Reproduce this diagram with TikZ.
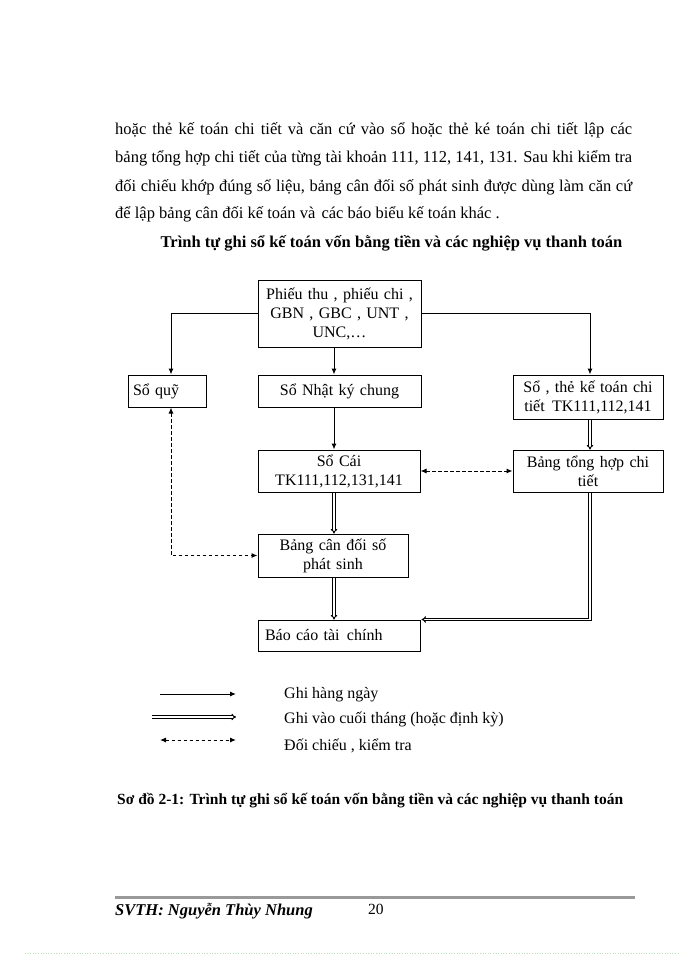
\documentclass[tikz,border=0pt]{standalone}
\usepackage{fontspec}
\setmainfont{Liberation Serif}
\usetikzlibrary{arrows.meta,calc}
\begin{document}
\begin{tikzpicture}[x=1pt,y=-1pt,
  box/.style={draw=black, line width=1pt, inner sep=0pt, align=center,
    font=\fontsize{16}{19}\selectfont},
  bodytxt/.style={anchor=base west, inner sep=0pt, font=\fontsize{16.5}{19}\selectfont},
  sol/.style={line width=1pt, -{Latex[length=6pt,width=5pt]}},
  dbl/.style={double, double distance=1.1pt, line width=1pt, -{Implies[scale=1.3]}},
  dsh/.style={line width=1pt, dash pattern=on 3.5pt off 2.5pt,
    {Latex[length=6pt,width=5pt]}-{Latex[length=6pt,width=5pt]}},
  legtxt/.style={anchor=base west, inner sep=0pt, font=\fontsize{16}{19}\selectfont}]
\useasboundingbox[fill=white] (0,0) rectangle (700,960);

% paragraph
\node[bodytxt] (p1) at (115,135) {\makebox[517pt][s]{hoặc thẻ kế toán chi tiết  và căn cứ vào sổ hoặc thẻ ké toán chi tiết lập các}};
\node[bodytxt] (p2) at (115,163) {\makebox[517pt][s]{bảng tổng hợp chi tiết của từng tài khoản 111, 112, 141, 131. Sau khi kiểm tra}};
\node[bodytxt] (p3) at (115,191) {\makebox[517pt][s]{đối chiếu khớp đúng số liệu,  bảng cân đối số phát sinh được dùng làm  căn cứ}};
\node[bodytxt] (p4) at (115,218) {để lập bảng cân đối kế toán và\hspace{2pt} các báo biểu kế toán khác .};

% title
\node[anchor=base, inner sep=0pt, font=\fontsize{16.5}{19}\selectfont\bfseries] (title) at (391.5,247)
  {Trình tự ghi sổ kế toán vốn bằng tiền và các nghiệp vụ thanh toán};

% boxes
\node[box, minimum width=163pt, minimum height=67pt, text width=159pt] (top) at (339.5,313.5)
  {Phiếu thu , phiếu chi ,\\ GBN , GBC , UNT ,\\ UNC,…};
\node[box, minimum width=78pt, minimum height=32pt, text width=68pt, align=left] (quy) at (167,391) {Sổ quỹ};
\node[box, minimum width=163pt, minimum height=32pt, text width=157pt] (nkc) at (339.5,391) {Sổ Nhật ký chung};
\node[box, minimum width=150pt, minimum height=44pt, text width=148pt] (sct) at (588,397)
  {Sổ , thẻ kế toán chi\\ tiết\hspace{2pt} TK111,112,141};
\node[box, minimum width=162pt, minimum height=42pt, text width=156pt] (socai) at (339,471)
  {Sổ Cái\\ TK111,112,131,141};
\node[box, minimum width=150pt, minimum height=42pt, text width=146pt] (bth) at (588,471)
  {Bảng tổng hợp chi\\ tiết};
\node[box, minimum width=150pt, minimum height=43pt, text width=144pt] (bcd) at (333,555.5)
  {Bảng cân đối số\\ phát sinh};
\node[box, minimum width=162pt, minimum height=31pt, text width=148pt, align=left] (bctc) at (339,635.5)
  {Báo cáo tài\hspace{2pt} chính};

% columns
\coordinate (colm) at (334,0);
\coordinate (colq) at (171,0);
\coordinate (colr) at (590,0);

% connectors
\draw[sol] (top.west) -| (quy.north -| colq);
\draw[sol] (top.east) -| (sct.north -| colr);
\draw[sol] (top.south -| colm) -- (nkc.north -| colm);
\draw[sol] (nkc.south -| colm) -- (socai.north -| colm);
\draw[dbl] (sct.south -| colr) -- (bth.north -| colr);
\draw[dsh] (socai.east) -- (bth.west);
\draw[dbl] (socai.south -| colm) -- (bcd.north -| colm);
\draw[dsh] (quy.south -| colq) |- (bcd.west);
\draw[dbl] (bcd.south -| colm) -- (bctc.north -| colm);
\draw[dbl] (bth.south -| colr) |- ([xshift=1pt]bctc.north east);

% legend
\coordinate (la1) at (160,694); \coordinate (lb1) at (236,694);
\coordinate (la2) at (152,717); \coordinate (lb2) at (236,717);
\coordinate (la3) at (160,740); \coordinate (lb3) at (236,740);
\draw[sol] (la1) -- (lb1);
\draw[dbl] (la2) -- (lb2);
\draw[dsh] (la3) -- (lb3);
\node[legtxt] (lt1) at (284,698) {Ghi hàng ngày};
\node[legtxt] (lt2) at (284,723) {Ghi vào cuối tháng (hoặc định kỳ)};
\node[legtxt] (lt3) at (284,750) {Đối chiếu , kiểm tra};

% caption
\node[anchor=base west, inner sep=0pt, font=\fontsize{15.5}{18}\selectfont\bfseries] (cap) at (117,804)
  {Sơ đồ 2-1: Trình tự ghi sổ kế toán vốn bằng tiền và các nghiệp vụ thanh toán};

% footer
\draw[line width=3pt, black!40] (115,897) -- (635,897);
\node[anchor=base west, inner sep=0pt, font=\fontsize{16.5}{18}\selectfont\bfseries\itshape] (svth) at (115,915)
  {SVTH: Nguyễn Thùy Nhung};
\node[anchor=base west, inner sep=0pt, font=\fontsize{15.5}{18}\selectfont] (pg) at (368,914) {20};
\draw[green!40!gray!40, line width=0.6pt, dotted] (25,953) -- (678,953);
\end{tikzpicture}
\end{document}
